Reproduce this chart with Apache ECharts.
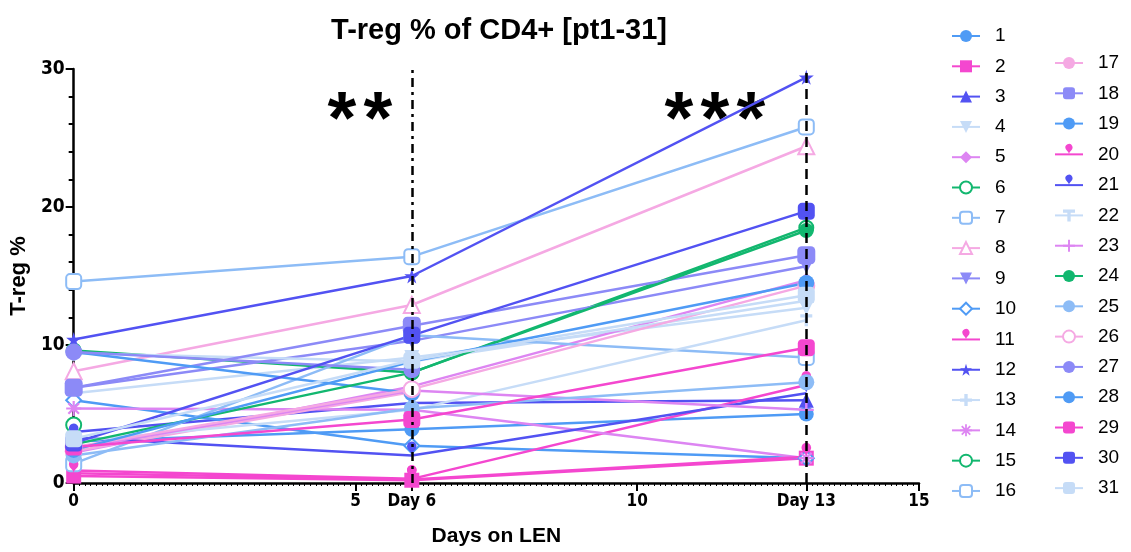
<!DOCTYPE html>
<html>
<head>
<meta charset="utf-8">
<script src="https://cdn.jsdelivr.net/npm/echarts@6/dist/echarts.min.js"></script>
<style>html,body{margin:0;padding:0;background:#fff}#c{width:1131px;height:552px}</style>
</head>
<body>
<div id="c"></div>
<script>
// ---- data ----
var days = [0, 6, 13];
var patients = ['1','2','3','4','5','6','7','8','9','10','11','12','13','14','15','16',
                '17','18','19','20','21','22','23','24','25','26','27','28','29','30','31'];
var day0  = [3.0, 0.5, 3.7, 6.5, 2.2, 9.6, 14.6, 8.1, 6.9, 6.0, 0.9, 10.4, 9.4, 5.4, 4.2, 1.4,
             2.3, 6.9, 9.5, 0.7, 3.3, 3.0, 2.5, 2.8, 2.0, 2.6, 9.5, 2.4, 2.6, 2.9, 3.2];
var day6  = [3.9, 0.2, 5.8, 9.1, 7.0, 8.0, 16.4, 12.9, 10.3, 2.7, 0.3, 15.0, 8.8, 5.3, null, 10.7,
             6.6, 11.4, 6.5, 0.25, 2.0, 5.3, 6.7, 8.0, 5.4, 6.8, 8.2, 8.8, 4.6, 10.7, 8.9];
var day13 = [5.0, 1.8, 6.0, 12.7, 14.7, 18.5, 25.8, 24.4, 15.7, 1.8, 7.1, 29.4, 13.2, 1.8, null, 9.1,
             null, 16.5, null, 1.9, 6.5, 11.8, 5.3, 18.3, 7.3, 14.3, null, 14.5, 9.8, 19.7, 13.6];
var xTickValues = [0, 5, 6, 10, 13, 15];
var xTickLabels = {0:'0', 5:'5', 6:'Day 6', 10:'10', 13:'Day 13', 15:'15'};
var annotations = [{ text: '**', xStart: 4.52 }, { text: '***', xStart: 10.5 }];

// ---- styles ----
var palette = ['#4F9BF5','#F447CF','#5252F2','#C6DCF7','#DD85F2','#12B76F','#8DBCF6','#F5A9E3','#8C8AF7'];
var STAR = 'path://M50,0 L61,35 L98,35 L68,57 L79,91 L50,70 L21,91 L32,57 L2,35 L39,35 Z';
var TRIDOWN = 'path://M0,0 L100,0 L50,90 Z';
var PLUS = 'path://M36,0 H64 V36 H100 V64 H64 V100 H36 V64 H0 V36 H36 Z';
var PLUSTHIN = 'path://M42,0 H58 V42 H100 V58 H58 V100 H42 V58 H0 V42 H42 Z';
var AST = 'path://M43,0h14v31l22,-22 10,10-22,22h31v14h-31l22,22-10,10-22,-22v31h-14v-31l-22,22-10,-10 22,-22h-31v-14h31l-22,-22 10,-10 22,22z';
var TEE = 'path://M0,0H100V28H64V100H36V28H0Z';
var symbols = ['circle','rect','triangle',TRIDOWN,'diamond','emptyCircle','emptyRoundRect','emptyTriangle',TRIDOWN,
  'emptyDiamond','pin',STAR,PLUS,AST,'emptyCircle','emptyRoundRect','circle','roundRect','circle','pin','pin',
  TEE,PLUSTHIN,'circle','circle','emptyCircle','circle','circle','roundRect','roundRect','roundRect'];
var sizes = [15,15,15,15,15,14,15,16,15,15,16,15,15,15,15,15,18,18,16,16,16,12,15,15,16,16,17,16,17,17,17];

var FONT = 'Liberation Sans';
var COND = '"DejaVu Sans Condensed", "Liberation Sans"';

var series = patients.map(function (name, i) {
  var vals = [day0[i], day6[i], day13[i]];
  var data = days.map(function (d, j) { return [d, vals[j]]; });
  var s = {
    name: name,
    type: 'line',
    data: data,
    symbol: symbols[i],
    symbolSize: sizes[i],
    showSymbol: true,
    connectNulls: false,
    color: palette[i % 9],
    lineStyle: { width: 2.5, color: palette[i % 9] },
    itemStyle: { color: palette[i % 9], borderWidth: 3.5 },
    emphasis: { disabled: true },
    z: 3
  };
  if (i === 0) {
    s.markLine = {
      silent: true, symbol: 'none', animation: false,
      label: { show: false },
      data: [
        { xAxis: days[1], lineStyle: { color: '#000', width: 2.5, type: [9, 5, 3, 5] } },
        { xAxis: days[2], lineStyle: { color: '#000', width: 2.5, type: [10, 6] } }
      ]
    };
  }
  return s;
});

var legendCommon = {
  orient: 'vertical', itemWidth: 28, itemHeight: 15, itemGap: 10.3,
  textStyle: { fontFamily: FONT, fontSize: 19, color: '#000', lineHeight: 20, padding: [0, 0, 0, 10] },
  selectedMode: false
};

var chart = echarts.init(document.getElementById('c'), null, { renderer: 'canvas' });
chart.setOption({
  animation: false,
  backgroundColor: '#fff',
  title: {
    text: 'T-reg % of CD4+ [pt1-31]', left: 494, top: 11, textAlign: 'center',
    textStyle: { fontFamily: FONT, fontSize: 29, fontWeight: 'bold', color: '#000' }
  },
  legend: [
    Object.assign({ data: patients.slice(0, 16), left: 946, top: 21 }, legendCommon),
    Object.assign({ data: patients.slice(16), left: 1049, top: 48 }, legendCommon)
  ],
  grid: { left: 73, right: 212, top: 69, bottom: 66, containLabel: false },
  xAxis: {
    type: 'value', min: 0, max: 15, interval: 5,
    name: 'Days on LEN', nameLocation: 'middle', nameGap: 43,
    nameTextStyle: { fontFamily: FONT, fontSize: 21, fontWeight: 'bold', color: '#000' },
    axisLine: { show: true, onZero: false, lineStyle: { color: '#000', width: 2.5 } },
    axisTick: { show: true, customValues: xTickValues, length: 8, lineStyle: { color: '#000', width: 2 } },
    minorTick: { show: true, splitNumber: 50, length: 3, lineStyle: { color: '#000', width: 1 } },
    axisLabel: {
      customValues: xTickValues,
      formatter: function (v) { return xTickLabels[v] !== undefined ? xTickLabels[v] : ''; },
      fontFamily: COND, fontSize: 17, fontWeight: 'bold', color: '#000', margin: 10
    },
    splitLine: { show: false }
  },
  yAxis: {
    type: 'value', min: 0, max: 30, interval: 10,
    name: 'T-reg %', nameLocation: 'middle', nameGap: 41,
    nameTextStyle: { fontFamily: FONT, fontSize: 22, fontWeight: 'bold', color: '#000' },
    axisLine: { show: true, onZero: false, lineStyle: { color: '#000', width: 2.5 } },
    axisTick: { show: true, length: 8, lineStyle: { color: '#000', width: 2 } },
    minorTick: { show: true, splitNumber: 5, length: 5, lineStyle: { color: '#000', width: 2 } },
    axisLabel: { fontFamily: COND, fontSize: 19, fontWeight: 'bold', color: '#000', margin: 9 },
    splitLine: { show: false }
  },
  series: series
});

// significance asterisks near the top of the plot
var g = [];
annotations.forEach(function (a) {
  var p = chart.convertToPixel({ gridIndex: 0 }, [a.xStart, 30]);
  for (var k = 0; k < a.text.length; k++) {
    g.push({ type: 'text', x: p[0] - 1 + k * 36, y: p[1] + 17,
      style: { text: '*', font: 'bold 74px "Liberation Sans"', fill: '#000' } });
  }
});
chart.setOption({ graphic: g });
</script>
</body>
</html>
